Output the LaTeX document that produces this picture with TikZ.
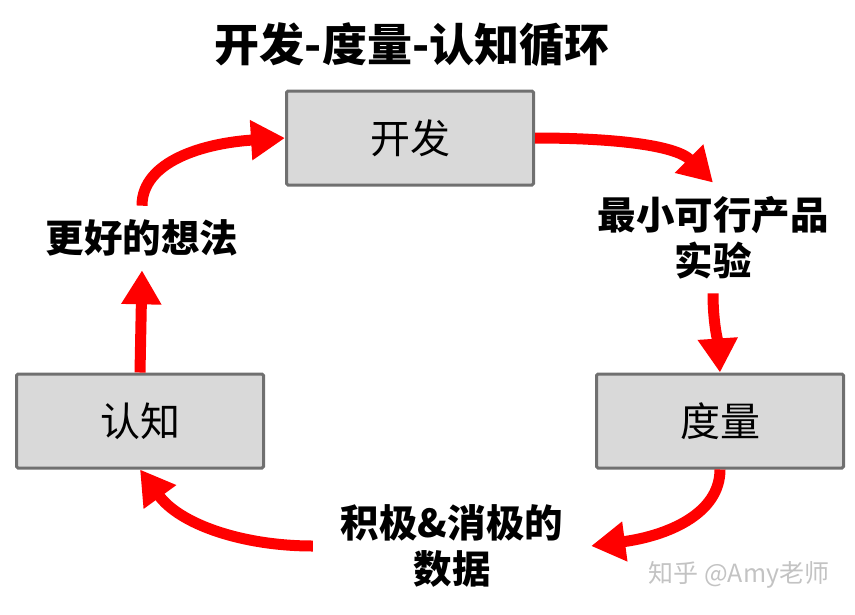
\documentclass[tikz,border=0pt]{standalone}
\usepackage{fontspec}
\newfontfamily\cjkfont{Noto Sans CJK SC}
\newcommand*{\boxfont}{\cjkfont\fontsize{40}{44}\selectfont}
\newcommand*{\tagfont}{\cjkfont\bfseries\fontsize{38.5}{46}\selectfont}
\newcommand*{\headfont}{\cjkfont\bfseries\fontsize{45}{50}\selectfont}
\definecolor{R}{RGB}{255,0,0}
\definecolor{F}{RGB}{217,217,217}
\definecolor{E}{RGB}{112,112,112}
\definecolor{W}{RGB}{195,195,195}
\usepackage{tikz}
\usetikzlibrary{arrows.meta}
\tikzstyle{base}=[x=1pt, y=-1pt]
\tikzstyle{stage}=[draw=E, fill=F, line width=3pt, rounded corners=1.5pt, minimum width=247pt, minimum height=94pt, inner sep=0pt, font=\boxfont]
\tikzstyle{tag}=[inner sep=0pt, outer sep=14pt, align=center, font=\tagfont]
\tikzstyle{flow}=[R, line width=11pt, -{Triangle[length=34pt,width=38pt]}]

\begin{document}
\begin{tikzpicture}[base]
    \path [use as bounding box] (0,0) rectangle (855,614);
    \node [font=\headfont] (title) at (412,45) {开发-度量-认知循环};
    \node [stage] (dev) at (410,138) {开发};
    \node [stage] (meas) at (720,421) {度量};
    \node [stage] (cog) at (140,421) {认知};
    \node [tag] (ideas) at (142,238) {更好的想法};
    \node [tag] (mvp) at (713,238) {最小可行产品\\实验};
    \node [tag, outer xsep=28pt] (data) at (452,546) {积极\&消极的\\数据};
    \node [W, font=\cjkfont\fontsize{25}{27}\selectfont] (mark) at (739,575) {知乎 @Amy老师};
    \draw [flow] (ideas.north) .. controls +(0,-45) and +(-80,5) .. (dev.west);
    \draw [flow] (dev.east) .. controls +(75,0) and +(-38,-38) .. (mvp.north);
    \draw [flow] (mvp.south) .. controls +(0,30) and +(-2,-30) .. (meas.north);
    \draw [flow] (meas.south) .. controls +(0,45) and +(75,-10) .. (data.east);
    \draw [flow] (data.west) .. controls +(-70,0) and +(40,55) .. (cog.south);
    \draw [flow] (cog.north) -- (ideas.south);
\end{tikzpicture}
\end{document}
